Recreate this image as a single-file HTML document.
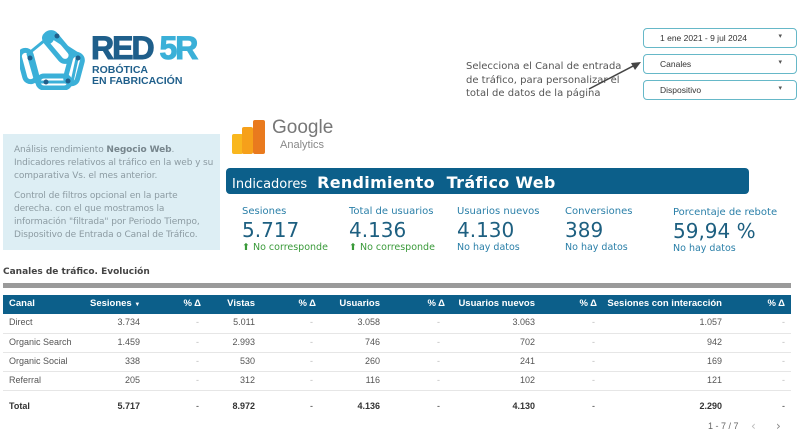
<!DOCTYPE html>
<html><head><meta charset="utf-8"><style>
*{margin:0;padding:0;box-sizing:border-box}
body{width:800px;height:439px;background:#fff;position:relative;overflow:hidden;font-family:"DejaVu Sans","Liberation Sans",sans-serif}
.a{position:absolute;white-space:nowrap}
.dd{position:absolute;left:643px;width:154px;height:20px;border:1.5px solid #66b8c8;border-radius:4px;font-size:8.5px;color:#333;padding:4px 0 0 16px;font-family:"Liberation Sans",sans-serif}
.dd span{position:absolute;right:14px;top:3px;font-size:7px;color:#555}
.lbl{font-size:10px;color:#2a7fa8}
.val{font-size:20px;color:#1d5f80}
.sub{font-size:9.5px;color:#2a7fa8}
.g{color:#3a9a3a}
.t{font-size:9px;color:#555;font-family:"Liberation Sans",sans-serif}
.h{font-size:9.5px;color:#fff;font-weight:bold;top:298px;font-family:"Liberation Sans",sans-serif}
.r{text-align:right}
.line{position:absolute;left:3px;width:788px;height:1px;background:#e6e6e6}
</style></head><body>
<svg class="a" style="left:20px;top:24px" width="70" height="66" viewBox="0 0 70 66">
<g fill="none" stroke="#3bb0d8" stroke-width="5" stroke-linejoin="round">
<path d="M8 30 L30 12 L58 30 L52 58 L16 58 Z" stroke-width="3"/>
<rect x="2" y="26" width="12" height="32" rx="6" transform="rotate(-15 8 42)"/>
<rect x="32" y="6" width="12" height="34" rx="6" transform="rotate(-40 38 23)"/>
<rect x="48" y="30" width="12" height="30" rx="6" transform="rotate(15 54 45)"/>
<rect x="18" y="52" width="32" height="12" rx="6"/>
</g>
<circle cx="28" cy="14" r="6" fill="#3bb0d8"/>
<g fill="#1f5f8b"><circle cx="10" cy="34" r="2.5"/><circle cx="37" cy="12" r="2.5"/><circle cx="58" cy="34" r="2.5"/><circle cx="26" cy="58" r="2.5"/><circle cx="48" cy="57" r="2.5"/></g>
</svg>
<div class="a" style="left:91px;top:30px;font-size:32px;font-weight:900;letter-spacing:-2px;color:#1f5f8b;font-family:'Liberation Sans',sans-serif;-webkit-text-stroke:1px #1f5f8b">RED <span style="color:#3bb0d8;-webkit-text-stroke:1px #3bb0d8">5R</span></div>
<div class="a" style="left:92px;top:65px;font-size:10.5px;font-weight:bold;color:#1f5f8b;line-height:11px;font-family:'Liberation Sans',sans-serif">ROBÓTICA<br>EN FABRICACIÓN</div>
<div class="a" style="left:466px;top:60px;font-size:10px;color:#555;line-height:13.5px">Selecciona el Canal de entrada<br>de tráfico, para personalizar el<br>total de datos de la página</div>
<svg class="a" style="left:585px;top:58px" width="60" height="36"><line x1="4" y1="31" x2="52" y2="6" stroke="#444" stroke-width="1.5"/><polygon points="56,4 46,5 50,12" fill="#444"/></svg>
<div class="dd" style="top:28px">1 ene 2021 - 9 jul 2024<span>▾</span></div>
<div class="dd" style="top:54px">Canales<span>▾</span></div>
<div class="dd" style="top:80px">Dispositivo<span>▾</span></div>
<div class="a" style="left:3px;top:134px;width:217px;height:116px;background:#ddeef4"></div>
<div class="a" style="left:14px;top:144px;font-size:9px;color:#8c9ba2;line-height:13px;letter-spacing:-0.1px">Análisis rendimiento <b style="color:#77868d">Negocio Web</b>.<br>Indicadores relativos al tráfico en la web y su<br>comparativa Vs. el mes anterior.<br><div style="height:7px"></div>Control de filtros opcional en la parte<br>derecha. con el que mostramos la<br>información "filtrada" por Periodo Tiempo,<br>Dispositivo de Entrada o Canal de Tráfico.</div>
<div class="a" style="left:232px;top:134px;width:11px;height:20px;background:#f9b71e;border-radius:2px"></div>
<div class="a" style="left:242px;top:127px;width:11px;height:27px;background:#f6a01a;border-radius:2px"></div>
<div class="a" style="left:253px;top:120px;width:12px;height:34px;background:#e97a1e;border-radius:2px"></div>
<div class="a" style="left:272px;top:117px;font-size:19px;color:#777;font-family:'Liberation Sans',sans-serif">Google</div>
<div class="a" style="left:280px;top:139px;font-size:11px;color:#888;font-family:'Liberation Sans',sans-serif">Analytics</div>
<div class="a" style="left:226px;top:168px;width:523px;height:26px;background:#0c5f8a;border-radius:4px"></div>
<div class="a" style="left:232px;top:173px;color:#fff;font-size:13px">Indicadores <span style="font-size:16px;font-weight:bold;letter-spacing:0.3px">&nbsp;Rendimiento &nbsp;Tráfico Web</span></div>
<div class="a lbl" style="left:242px;top:206px">Sesiones</div><div class="a val" style="left:242px;top:218px">5.717</div><div class="a sub g" style="left:242px;top:242px">⬆ No corresponde</div>
<div class="a lbl" style="left:349px;top:206px">Total de usuarios</div><div class="a val" style="left:349px;top:218px">4.136</div><div class="a sub g" style="left:349px;top:242px">⬆ No corresponde</div>
<div class="a lbl" style="left:457px;top:206px">Usuarios nuevos</div><div class="a val" style="left:457px;top:218px">4.130</div><div class="a sub" style="left:457px;top:242px">No hay datos</div>
<div class="a lbl" style="left:565px;top:206px">Conversiones</div><div class="a val" style="left:565px;top:218px">389</div><div class="a sub" style="left:565px;top:242px">No hay datos</div>
<div class="a lbl" style="left:673px;top:207px">Porcentaje de rebote</div><div class="a val" style="left:673px;top:219px">59,94 %</div><div class="a sub" style="left:673px;top:243px">No hay datos</div>
<div class="a" style="left:3px;top:267px;font-size:9px;font-weight:bold;color:#444">Canales de tráfico. Evolución</div>
<div class="a" style="left:3px;top:283px;width:788px;height:5px;background:#9a9a9a"></div>
<div class="a" style="left:3px;top:295px;width:788px;height:19px;background:#0c5f8a"></div>
<div class="a h" style="left:9px">Canal</div>
<div class="a h" style="left:90px">Sesiones <span style="font-size:6px">▼</span></div>
<div class="a h r" style="right:599px">% Δ</div>
<div class="a h r" style="right:545px">Vistas</div>
<div class="a h r" style="right:484px">% Δ</div>
<div class="a h r" style="right:420px">Usuarios</div>
<div class="a h r" style="right:355px">% Δ</div>
<div class="a h r" style="right:265px">Usuarios nuevos</div>
<div class="a h r" style="right:203px">% Δ</div>
<div class="a h r" style="right:78px">Sesiones con interacción</div>
<div class="a h r" style="right:15px">% Δ</div>
<div class="line" style="top:333px"></div><div class="line" style="top:352px"></div><div class="line" style="top:371px"></div><div class="line" style="top:390px"></div>
<div id="rows"></div>
<div class="a t" style="left:708px;top:421px;color:#666">1 - 7 / 7</div>
<div class="a" style="left:751px;top:419px;font-size:12px;color:#bbb">‹</div>
<div class="a" style="left:776px;top:419px;font-size:12px;color:#888">›</div>
<script>
var rows=[["Direct","3.734","5.011","3.058","3.063","1.057",317],["Organic Search","1.459","2.993","746","702","942",337],["Organic Social","338","530","260","241","169",356],["Referral","205","312","116","102","121",375],["Total","5.717","8.972","4.136","4.130","2.290",401]];
var rights=[660,545,420,265,78],dr=[601,487,360,205,15],h="";
rows.forEach(function(r,i){var tot=i==4;var st=tot?"font-weight:bold;color:#333;":"";
h+='<div class="a t" style="left:9px;top:'+r[6]+'px;'+st+'">'+r[0]+'</div>';
for(var k=0;k<5;k++){h+='<div class="a t r" style="right:'+rights[k]+'px;top:'+r[6]+'px;'+st+'">'+r[k+1]+'</div>';
h+='<div class="a t r" style="right:'+dr[k]+'px;top:'+r[6]+'px;color:'+(tot?'#333':'#bbb')+'">-</div>';}});
document.getElementById("rows").innerHTML=h;
</script>
</body></html>
